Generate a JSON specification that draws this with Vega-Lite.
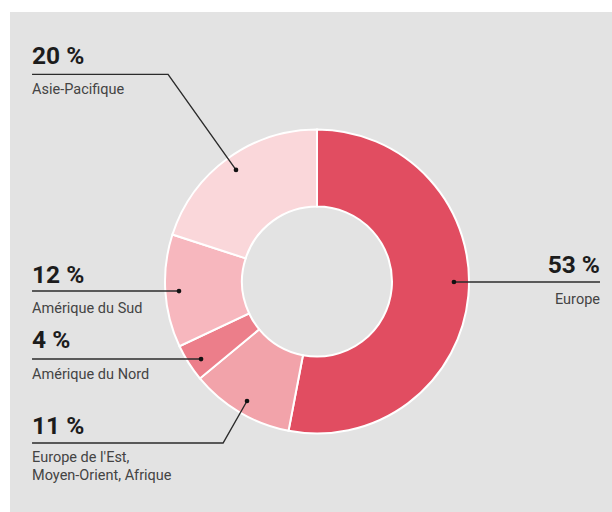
{
  "$schema": "https://vega.github.io/schema/vega-lite/v6.json",
  "autosize": {"type": "none"},
  "width": 602,
  "height": 500,
  "padding": {"left": 10, "top": 12, "right": 0, "bottom": 0},
  "background": "#ffffff",
  "config": {
    "view": {"fill": "#e3e3e3", "stroke": null},
    "font": "Roboto"
  },
  "datasets": {
    "parts": [
      {"region": "Europe", "part": 53, "rang": 1},
      {"region": "Europe de l'Est, Moyen-Orient, Afrique", "part": 11, "rang": 2},
      {"region": "Amérique du Nord", "part": 4, "rang": 3},
      {"region": "Amérique du Sud", "part": 12, "rang": 4},
      {"region": "Asie-Pacifique", "part": 20, "rang": 5}
    ],
    "traits": [
      {"id": "asie", "ordre": 1, "x": -187.5, "y": 136.3, "ancre": false},
      {"id": "asie", "ordre": 2, "x": -98.0, "y": 136.3, "ancre": false},
      {"id": "asie", "ordre": 3, "x": -53.3, "y": 73.4, "ancre": true},
      {"id": "sud", "ordre": 1, "x": -187.5, "y": -6.25, "ancre": false},
      {"id": "sud", "ordre": 2, "x": -90.8, "y": -6.25, "ancre": true},
      {"id": "nord", "ordre": 1, "x": -187.5, "y": -51.0, "ancre": false},
      {"id": "nord", "ordre": 2, "x": -76.3, "y": -51.0, "ancre": true},
      {"id": "est", "ordre": 1, "x": -187.5, "y": -106.25, "ancre": false},
      {"id": "est", "ordre": 2, "x": -61.8, "y": -106.25, "ancre": false},
      {"id": "est", "ordre": 3, "x": -46.05, "y": -78.6, "ancre": true},
      {"id": "europe", "ordre": 1, "x": 90.1, "y": -0.3, "ancre": true},
      {"id": "europe", "ordre": 2, "x": 186.2, "y": -0.3, "ancre": false}
    ],
    "etiquettes": [
      {"texte": "20 %", "genre": "pct", "cote": "gauche", "x": -187.5, "y": 143.1},
      {"texte": "Asie-Pacifique", "genre": "nom", "cote": "gauche", "x": -187.5, "y": 123.4},
      {"texte": "12 %", "genre": "pct", "cote": "gauche", "x": -187.5, "y": -1.0},
      {"texte": "Amérique du Sud", "genre": "nom", "cote": "gauche", "x": -187.5, "y": -20.7},
      {"texte": "4 %", "genre": "pct", "cote": "gauche", "x": -187.5, "y": -43.75},
      {"texte": "Amérique du Nord", "genre": "nom", "cote": "gauche", "x": -187.5, "y": -64.1},
      {"texte": "11 %", "genre": "pct", "cote": "gauche", "x": -187.5, "y": -100.3},
      {"texte": "Europe de l'Est,", "genre": "nom", "cote": "gauche", "x": -187.5, "y": -118.75},
      {"texte": "Moyen-Orient, Afrique", "genre": "nom", "cote": "gauche", "x": -187.5, "y": -130.6},
      {"texte": "53 %", "genre": "pct", "cote": "droite", "x": 186.2, "y": 5.6},
      {"texte": "Europe", "genre": "nom", "cote": "droite", "x": 186.2, "y": -14.8}
    ]
  },
  "layer": [
    {
      "data": {"name": "parts"},
      "mark": {"type": "arc", "outerRadius": 152, "innerRadius": 75, "stroke": "#ffffff", "strokeWidth": 2},
      "encoding": {
        "x": {"datum": 0, "type": "quantitative", "scale": {"domain": [-202, 194.1], "nice": false, "zero": false}, "axis": null},
        "y": {"datum": 0, "type": "quantitative", "scale": {"domain": [-151.6, 177.3], "nice": false, "zero": false}, "axis": null},
        "theta": {"field": "part", "type": "quantitative", "stack": true},
        "order": {"field": "rang", "type": "quantitative"},
        "color": {
          "field": "region", "type": "nominal", "legend": null,
          "scale": {
            "domain": ["Europe", "Europe de l'Est, Moyen-Orient, Afrique", "Amérique du Nord", "Amérique du Sud", "Asie-Pacifique"],
            "range": ["#e14d61", "#f2a3aa", "#ec7e8a", "#f7b7be", "#fad7da"]
          }
        }
      }
    },
    {
      "data": {"name": "traits"},
      "mark": {"type": "line", "color": "#2b2b2b", "strokeWidth": 1.4},
      "encoding": {
        "x": {"field": "x", "type": "quantitative", "axis": null},
        "y": {"field": "y", "type": "quantitative", "axis": null},
        "detail": {"field": "id"},
        "order": {"field": "ordre", "type": "quantitative"}
      }
    },
    {
      "data": {"name": "traits"},
      "transform": [{"filter": "datum.ancre"}],
      "mark": {"type": "point", "filled": true, "color": "#111111", "size": 22, "opacity": 1},
      "encoding": {
        "x": {"field": "x", "type": "quantitative", "axis": null},
        "y": {"field": "y", "type": "quantitative", "axis": null}
      }
    },
    {
      "data": {"name": "etiquettes"},
      "transform": [{"filter": "datum.genre === 'pct' && datum.cote === 'gauche'"}],
      "mark": {"type": "text", "align": "left", "baseline": "alphabetic", "fontSize": 24.5, "fontWeight": "bold", "color": "#1c1c1c"},
      "encoding": {
        "x": {"field": "x", "type": "quantitative", "axis": null},
        "y": {"field": "y", "type": "quantitative", "axis": null},
        "text": {"field": "texte"}
      }
    },
    {
      "data": {"name": "etiquettes"},
      "transform": [{"filter": "datum.genre === 'pct' && datum.cote === 'droite'"}],
      "mark": {"type": "text", "align": "right", "baseline": "alphabetic", "fontSize": 24.5, "fontWeight": "bold", "color": "#1c1c1c"},
      "encoding": {
        "x": {"field": "x", "type": "quantitative", "axis": null},
        "y": {"field": "y", "type": "quantitative", "axis": null},
        "text": {"field": "texte"}
      }
    },
    {
      "data": {"name": "etiquettes"},
      "transform": [{"filter": "datum.genre === 'nom' && datum.cote === 'gauche'"}],
      "mark": {"type": "text", "align": "left", "baseline": "alphabetic", "fontSize": 14.5, "color": "#444444"},
      "encoding": {
        "x": {"field": "x", "type": "quantitative", "axis": null},
        "y": {"field": "y", "type": "quantitative", "axis": null},
        "text": {"field": "texte"}
      }
    },
    {
      "data": {"name": "etiquettes"},
      "transform": [{"filter": "datum.genre === 'nom' && datum.cote === 'droite'"}],
      "mark": {"type": "text", "align": "right", "baseline": "alphabetic", "fontSize": 14.5, "color": "#444444"},
      "encoding": {
        "x": {"field": "x", "type": "quantitative", "axis": null},
        "y": {"field": "y", "type": "quantitative", "axis": null},
        "text": {"field": "texte"}
      }
    }
  ]
}
